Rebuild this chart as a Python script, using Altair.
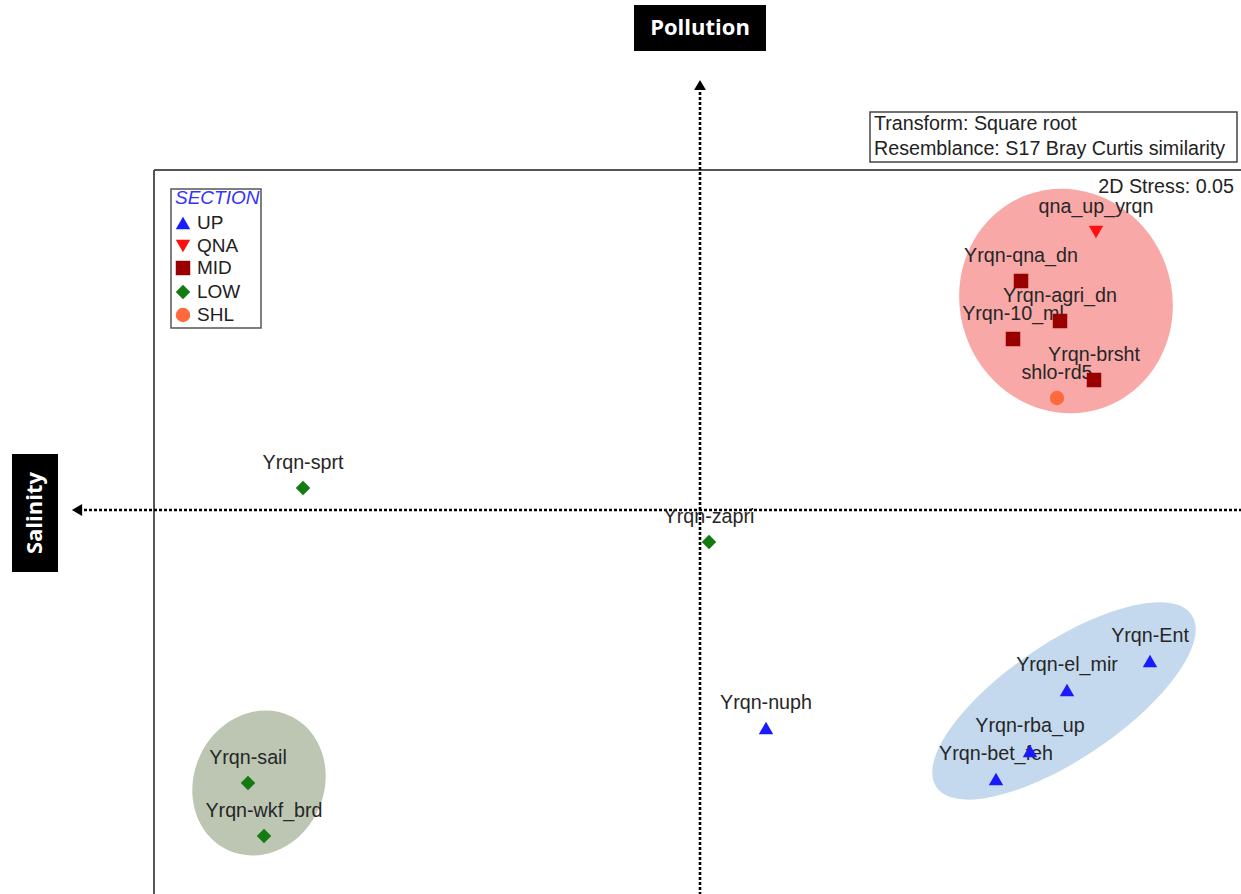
import altair as alt
import pandas as pd

W, H = 1241, 894

# ---- ordination samples (positions, screen units) ----
sample_names = ["qna_up_yrqn", "Yrqn-qna_dn", "Yrqn-agri_dn", "Yrqn-10_ml", "Yrqn-brsht",
                "shlo-rd5", "Yrqn-sprt", "Yrqn-zapri", "Yrqn-Ent", "Yrqn-el_mir",
                "Yrqn-rba_up", "Yrqn-bet_feh", "Yrqn-nuph", "Yrqn-sail", "Yrqn-wkf_brd"]
sample_section = ["QNA", "MID", "MID", "MID", "MID", "SHL", "LOW", "LOW", "UP", "UP",
                  "UP", "UP", "UP", "LOW", "LOW"]
sample_x = [1096, 1021, 1060, 1013, 1094, 1057, 303, 709, 1150, 1067, 1030, 996, 766, 248, 264]
sample_y = [232, 281, 321, 339, 380, 398, 488, 542, 661, 690, 751, 779, 728, 783, 836]

sections = ["UP", "QNA", "MID", "LOW", "SHL"]
section_colors = ["#1a1aff", "#ff1010", "#990000", "#147a14", "#ff6a3d"]
section_shapes = ["triangle-up", "triangle-down", "square", "diamond", "circle"]
section_sizes = [210, 210, 150, 230, 160]

# ---- cluster ellipses ----
ellipse_x = [1066, 1064, 259]
ellipse_y = [301, 701, 783]
ellipse_a = [113, 154, 74]
ellipse_b = [106, 58, 65]
ellipse_angle = [70, 326, 295]
ellipse_colors = ["#f9a8a8", "#c4d9ee", "#bcc6b3"]

# ---- frame / annotation layout ----
legend_y = [223, 246, 268, 292, 315]

X = alt.Scale(domain=[0, W], nice=False, zero=False)
Y = alt.Scale(domain=[0, H], nice=False, zero=False, reverse=True)
FS = 19.7


def xe(f="x"):
    return alt.X(f"{f}:Q", scale=X, axis=None)


def ye(f="y"):
    return alt.Y(f"{f}:Q", scale=Y, axis=None)


layers = []

# frame lines
frame = pd.DataFrame({"x": [154, 154], "x2": [154, W], "y": [170, 170], "y2": [H, 170]})
layers.append(alt.Chart(frame).mark_rule(color="#555555", strokeWidth=2).encode(
    x=xe(), y=ye(), x2="x2:Q", y2="y2:Q"))

# ellipses
for i in range(len(ellipse_x)):
    r = ellipse_b[i] / ellipse_a[i]
    path = f"M -1 0 A 1 {r:.4f} 0 1 0 1 0 A 1 {r:.4f} 0 1 0 -1 0 Z"
    d = pd.DataFrame({"x": [ellipse_x[i]], "y": [ellipse_y[i]]})
    layers.append(alt.Chart(d).mark_point(
        shape=path, filled=True, fill=ellipse_colors[i], fillOpacity=1, strokeWidth=0,
        size=(2 * ellipse_a[i]) ** 2, angle=ellipse_angle[i]).encode(x=xe(), y=ye()))

# dotted axes
axes = pd.DataFrame({"x": [700, 84], "x2": [700, W], "y": [92, 510], "y2": [H, 510]})
layers.append(alt.Chart(axes).mark_rule(color="black", strokeWidth=2.6, strokeDash=[3, 2]).encode(
    x=xe(), y=ye(), x2="x2:Q", y2="y2:Q"))
heads = pd.DataFrame({"x": [700, 77], "y": [85, 510], "s": ["triangle-up", "triangle-left"]})
layers.append(alt.Chart(heads).mark_point(filled=True, color="black", opacity=1, size=140).encode(
    x=xe(), y=ye(), shape=alt.Shape("s:N", scale=None, legend=None)))

# sample labels and points
samples = pd.DataFrame({"name": sample_names, "section": sample_section,
                        "x": sample_x, "y": sample_y})
layers.append(alt.Chart(samples).mark_text(
    align="center", baseline="alphabetic", dy=-19, font="Liberation Sans",
    fontSize=FS, color="#262626").encode(x=xe(), y=ye(), text="name:N"))

sec_color = alt.Color("section:N", scale=alt.Scale(domain=sections, range=section_colors), legend=None)
sec_shape = alt.Shape("section:N", scale=alt.Scale(domain=sections, range=section_shapes), legend=None)
sec_size = alt.Size("section:N", scale=alt.Scale(domain=sections, range=section_sizes), legend=None)
layers.append(alt.Chart(samples).mark_point(filled=True, opacity=1).encode(
    x=xe(), y=ye(), color=sec_color, shape=sec_shape, size=sec_size))

# legend box
lbox = pd.DataFrame({"x": [171], "x2": [261], "y": [189], "y2": [328]})
layers.append(alt.Chart(lbox).mark_rect(fill="white", stroke="#555555", strokeWidth=1.5).encode(
    x=xe(), x2="x2:Q", y=ye(), y2="y2:Q"))
ltitle = pd.DataFrame({"x": [175], "y": [198], "t": ["SECTION"]})
layers.append(alt.Chart(ltitle).mark_text(
    align="left", baseline="middle", font="Liberation Sans", fontSize=19, fontStyle="italic",
    color="#3333ff").encode(x=xe(), y=ye(), text="t:N"))
leg = pd.DataFrame({"section": sections, "x": [183] * 5, "tx": [197] * 5, "y": legend_y})
layers.append(alt.Chart(leg).mark_point(filled=True, opacity=1).encode(
    x=xe(), y=ye(), color=sec_color, shape=sec_shape, size=sec_size))
layers.append(alt.Chart(leg).mark_text(
    align="left", baseline="middle", font="Liberation Sans", fontSize=19, color="#222222").encode(
    x=xe("tx"), y=ye(), text="section:N"))

# transform / resemblance box
tbox = pd.DataFrame({"x": [870], "x2": [1237], "y": [112], "y2": [162]})
layers.append(alt.Chart(tbox).mark_rect(fill="white", stroke="#444444", strokeWidth=1.5).encode(
    x=xe(), x2="x2:Q", y=ye(), y2="y2:Q"))
ttext = pd.DataFrame({"x": [874, 874], "y": [124, 149],
                      "t": ["Transform: Square root", "Resemblance: S17 Bray Curtis similarity"]})
layers.append(alt.Chart(ttext).mark_text(
    align="left", baseline="middle", font="Liberation Sans", fontSize=FS, color="#222222").encode(
    x=xe(), y=ye(), text="t:N"))
stress = pd.DataFrame({"x": [1234], "y": [187], "t": ["2D Stress: 0.05"]})
layers.append(alt.Chart(stress).mark_text(
    align="right", baseline="middle", font="Liberation Sans", fontSize=FS, color="#222222").encode(
    x=xe(), y=ye(), text="t:N"))

# axis name boxes
nbox = pd.DataFrame({"x": [634, 12], "x2": [766, 58], "y": [5, 454], "y2": [51, 572]})
layers.append(alt.Chart(nbox).mark_rect(fill="black").encode(
    x=xe(), x2="x2:Q", y=ye(), y2="y2:Q"))
pol = pd.DataFrame({"x": [700], "y": [28], "t": ["Pollution"]})
layers.append(alt.Chart(pol).mark_text(
    align="center", baseline="middle", font="Open Sans", fontWeight="bold", fontSize=22,
    color="white").encode(x=xe(), y=ye(), text="t:N"))
sal = pd.DataFrame({"x": [35], "y": [513], "t": ["Salinity"]})
layers.append(alt.Chart(sal).mark_text(
    align="center", baseline="middle", font="Open Sans", fontWeight="bold", fontSize=22,
    angle=270, color="white").encode(x=xe(), y=ye(), text="t:N"))

chart = alt.layer(*layers).properties(
    width=W, height=H, padding=0, background="white",
    autosize=alt.AutoSizeParams(type="none"),
).configure_view(strokeWidth=0)

chart.save("out.html", embed_options={"renderer": "svg", "actions": False})
